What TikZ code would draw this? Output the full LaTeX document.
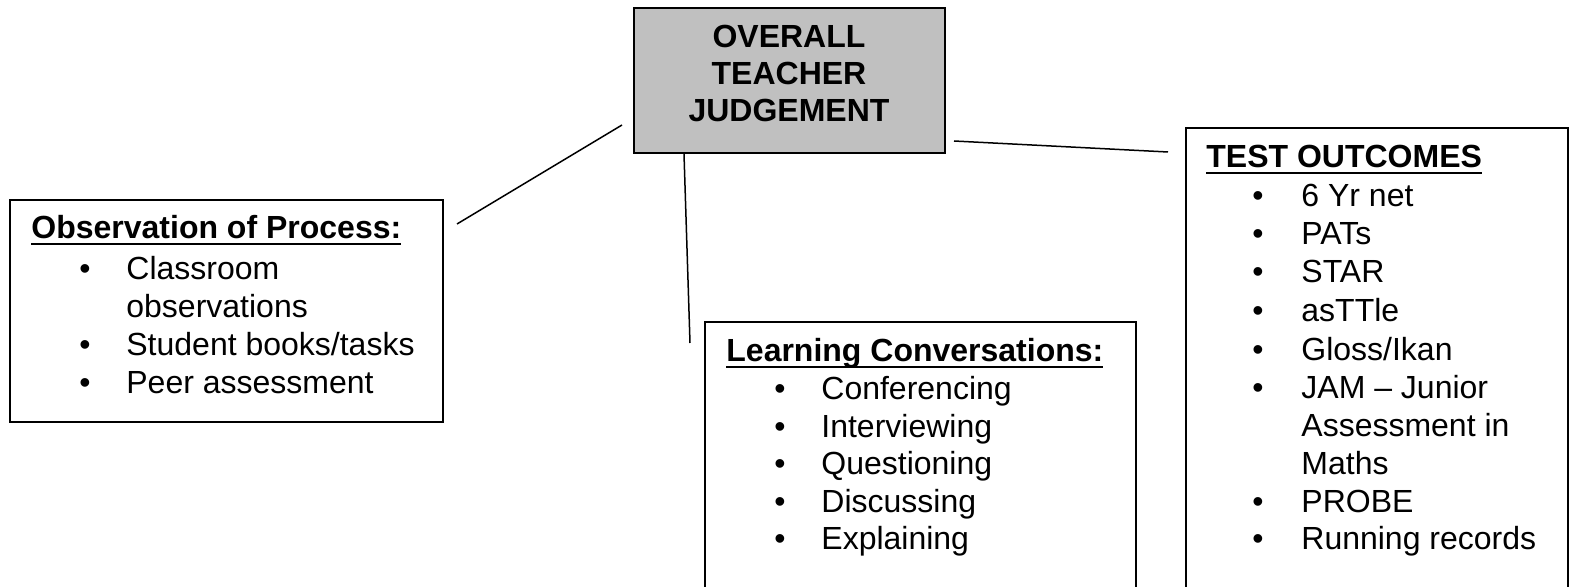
\documentclass[tikz,border=0pt]{standalone}
\usepackage{fontspec}
\setmainfont{Liberation Sans}
\usetikzlibrary{fit}
\definecolor{boxgray}{HTML}{C0C0C0}
\newcommand\myul[1]{\setbox0\hbox{#1}\rlap{\rule[-2.9pt]{\wd0}{0.8pt}}\box0}
\begin{document}
\begin{tikzpicture}[x=0.5pt,y=-0.5pt,
 box/.style={draw=black, line width=1pt, inner sep=0pt, fill=white},
 txt/.style={anchor=base west, inner sep=0pt, font=\fontsize{16}{19}\selectfont},
 bul/.style={anchor=base, inner sep=0pt, font=\fontsize{16}{19}\selectfont},
 ttl/.style={anchor=base west, inner sep=0pt, font=\fontsize{16}{19}\selectfont\bfseries},
 ctr/.style={anchor=base, inner sep=0pt, font=\fontsize{16}{19}\selectfont\bfseries},
 link/.style={draw=black, line width=0.75pt}]
\useasboundingbox (0,0) rectangle (1570,587);
\clip (0,0) rectangle (1570,587);
% boxes
\node[box, fill=boxgray, fit={(634,8) (945,153)}] (otj) {};
\node[box, fit={(10,200) (443,422)}] (obs) {};
\node[box, fit={(705,322) (1136,620)}] (learn) {};
\node[box, fit={(1186,128) (1568,620)}] (test) {};
% central text
\node[ctr] (otj1) at (789,48) {OVERALL};
\node[ctr] (otj2) at (789,85) {TEACHER};
\node[ctr] (otj3) at (789,122) {JUDGEMENT};
% observation
\node[ttl] (obsT) at (31,239) {\myul{Observation of Process:}};
\node[bul] (obsB1) at (85,280) {•};
\node[txt] (obs1) at (126,280) {Classroom};
\node[txt] (obs1b) at (126,318) {observations};
\node[bul] (obsB2) at (85,356) {•};
\node[txt] (obs2) at (126,356) {Student books/tasks};
\node[bul] (obsB3) at (85,394) {•};
\node[txt] (obs3) at (126,394) {Peer assessment};
% learning conversations
\node[ttl] (lcT) at (726,362) {\myul{Learning Conversations:}};
\node[bul] (lcB1) at (780,400) {•};
\node[txt] (lc1) at (821,400) {Conferencing};
\node[bul] (lcB2) at (780,438) {•};
\node[txt] (lc2) at (821,438) {Interviewing};
\node[bul] (lcB3) at (780,475) {•};
\node[txt] (lc3) at (821,475) {Questioning};
\node[bul] (lcB4) at (780,513) {•};
\node[txt] (lc4) at (821,513) {Discussing};
\node[bul] (lcB5) at (780,550) {•};
\node[txt] (lc5) at (821,550) {Explaining};
% test outcomes
\node[ttl] (toT) at (1206,168) {\myul{TEST OUTCOMES}};
\node[bul] (toB1) at (1258,207) {•};
\node[txt] (to1) at (1301,207) {6 Yr net};
\node[bul] (toB2) at (1258,245) {•};
\node[txt] (to2) at (1301,245) {PATs};
\node[bul] (toB3) at (1258,283) {•};
\node[txt] (to3) at (1301,283) {STAR};
\node[bul] (toB4) at (1258,322) {•};
\node[txt] (to4) at (1301,322) {asTTle};
\node[bul] (toB5) at (1258,361) {•};
\node[txt] (to5) at (1301,361) {Gloss/Ikan};
\node[bul] (toB6) at (1258,399) {•};
\node[txt] (to6) at (1301,399) {JAM – Junior};
\node[txt] (to6b) at (1301,437) {Assessment in};
\node[txt] (to6c) at (1301,475) {Maths};
\node[bul] (toB7) at (1258,513) {•};
\node[txt] (to7) at (1301,513) {PROBE};
\node[bul] (toB8) at (1258,550) {•};
\node[txt] (to8) at (1301,550) {Running records};
% connectors
\coordinate (la) at (457,224);
\coordinate (lb) at (622,125);
\coordinate (ma) at (684,154);
\coordinate (mb) at (690,343);
\coordinate (ra) at (954,141);
\coordinate (rb) at (1168,152);
\draw[link] (la) -- (lb);
\draw[link] (ma) -- (mb);
\draw[link] (ra) -- (rb);
\end{tikzpicture}
\end{document}
